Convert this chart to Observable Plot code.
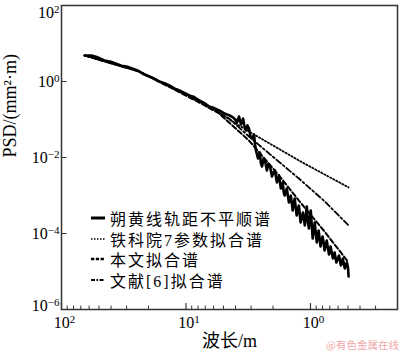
<!DOCTYPE html>
<html><head><meta charset="utf-8">
<script src="https://cdn.jsdelivr.net/npm/d3@7"></script>
<script src="https://cdn.jsdelivr.net/npm/@observablehq/plot@0.6"></script>
<style>
body{margin:0;background:#fff;}
#wrap{position:relative;width:400px;height:354px;font-family:"Liberation Serif","Noto Sans CJK SC",serif;}
.legend{position:absolute;left:91px;top:208px;font-size:16px;color:#000;font-family:"Liberation Serif","Noto Sans CJK SC",serif;}
.legend .row{display:flex;align-items:center;height:20.5px;white-space:nowrap}
.legend span{letter-spacing:2px}
.legend svg{width:14px;height:10px;margin-right:5px;flex:none}
.wm{position:absolute;left:326px;top:337px;font-size:10.5px;color:#f0a8a8;font-family:"Noto Sans CJK SC",sans-serif;white-space:nowrap}
</style></head><body><div id="wrap"></div>
<script>
// measured track gauge irregularity PSD (wavelength m, PSD mm^2·m)
const measWavelength = [65.2,57.3,52.2,45.1,40.2,36.8,33.0,30.0,27.1,24.5,21.8,19.7,17.9,16.4,14.9,13.6,12.4,11.3,10.3,9.4,8.6,7.83,7.1,6.52,5.95,5.42,5.0,4.68,4.41,4.19,4.02,3.89,3.75,3.61,3.48,3.39,3.30,3.21,3.12,3.03,2.95,2.84,2.79,2.74,2.69,2.64,2.55,2.50,2.45,2.38,2.32,2.24,2.18,2.12,2.04,1.97,1.93,1.86,1.79,1.73,1.67,1.64,1.61,1.55,1.49,1.44,1.41,1.39,1.34,1.29,1.26,1.24,1.20,1.15,1.11,1.07,1.05,1.03,0.995,0.96,0.925,0.89,0.86,0.83,0.80,0.785,0.77,0.74,0.71,0.69,0.66,0.64,0.62,0.59,0.57,0.55,0.53,0.51,0.50,0.494];
const measPSD = [4.83,4.8,4.41,3.57,3.3,2.98,2.6,2.48,2.2,1.95,1.55,1.35,1.18,1.0,0.9,0.785,0.66,0.58,0.5,0.43,0.39,0.316,0.27,0.22,0.2,0.173,0.15,0.135,0.125,0.113,0.1,0.0834,0.12,0.0738,0.106,0.066,0.0514,0.07,0.058,0.035,0.0316,0.0403,0.022,0.0153,0.012,0.00942,0.0135,0.007,0.0058,0.0095,0.00834,0.00455,0.0068,0.00616,0.00316,0.0042,0.00455,0.0022,0.00336,0.00153,0.0022,0.0012,0.001,0.00153,0.000655,0.001,0.0006,0.000403,0.000834,0.000298,0.00045,0.000546,0.000195,0.000357,0.000163,0.000514,0.00021,0.000135,0.000403,7.4e-5,0.000195,5.8e-5,0.00012,4.55e-5,8.3e-5,6.0e-5,3.57e-5,6.5e-5,2.8e-5,4.55e-5,2.2e-5,3.16e-5,1.73e-5,2.64e-5,1.44e-5,2.2e-5,1.2e-5,1.73e-5,1.3e-5,7.4e-6];
// 铁科院7参数拟合谱
const tkyWavelength = [65.2,23.7,7.83,3.12,1.24,0.494];
const tkyPSD = [4.83,1.83,0.316,0.0483,0.00834,0.00163];
// 本文拟合谱
const thisWavelength = [65.2,23.7,7.83,5.42,3.12,1.79,1.24,0.783,0.494];
const thisPSD = [4.83,1.83,0.28,0.144,0.028,0.00336,0.000738,0.00012,1.73e-5];
// 文献[6]拟合谱
const refWavelength = [65.2,23.7,7.83,4.51,3.12,1.24,0.783,0.494];
const refPSD = [4.83,1.83,0.298,0.106,0.0357,0.0028,0.000738,0.000163];

const seriesNames = ["朔黄线轨距不平顺谱","铁科院7参数拟合谱","本文拟合谱","文献[6]拟合谱"];
const xMajor = [100,10,1];
const xMinor = [90,80,70,60,50,40,30,20,9,8,7,6,5,4,3,2,0.9,0.8,0.7,0.6,0.5,0.4,0.3];
const yMajor = [1e2,1,1e-2,1e-4,1e-6];
const xLabel = "波长/m";
const yLabel = "PSD/(mm²·m)";
const watermark = "@有色金属在线";

const toRows = (xs, ys) => xs.map((x, i) => ({x, y: ys[i]}));
const meas = toRows(measWavelength, measPSD);
const tky = toRows(tkyWavelength, tkyPSD);
const mine = toRows(thisWavelength, thisPSD);
const ref = toRows(refWavelength, refPSD);

const fmt = d => "10^" + Math.round(Math.log10(d));
const tickShape = {draw(ctx, l) { ctx.moveTo(0, 0); ctx.lineTo(0, -l); }};
const font = "'Liberation Serif','Noto Sans CJK SC',serif";

const plot = Plot.plot({
  width: 400, height: 354,
  marginLeft: 61, marginRight: 3, marginTop: 5, marginBottom: 45,
  style: {fontFamily: font, background: "transparent", color: "#000", overflow: "visible"},
  x: {type: "log", domain: [100, 0.2]},
  y: {type: "log", domain: [1e-6, 1e2]},
  marks: [
    Plot.axisX({ticks: xMajor, tickSize: 0, tickPadding: 7, tickFormat: fmt, fontSize: 16, dx: 3, label: null}),
    Plot.axisY({ticks: yMajor, tickSize: 0, tickPadding: 2, tickFormat: fmt, fontSize: 16, label: null}),
    Plot.vector(xMinor, {x: d => d, frameAnchor: "bottom", length: 3.5, rotate: 0, anchor: "start", shape: tickShape, stroke: "#333", strokeWidth: 1}),
    Plot.vector(xMajor, {x: d => d, frameAnchor: "bottom", length: 6, rotate: 0, anchor: "start", shape: tickShape, stroke: "#333", strokeWidth: 1.2}),
    Plot.vector(yMajor, {y: d => d, frameAnchor: "left", length: 4.5, rotate: 90, anchor: "start", shape: tickShape, stroke: "#333", strokeWidth: 1.2}),
    Plot.line(tky, {x: "x", y: "y", stroke: "#000", strokeWidth: 1.8, strokeDasharray: "1.3,2.1"}),
    Plot.line(ref, {x: "x", y: "y", stroke: "#000", strokeWidth: 1.8, strokeDasharray: "6,2.5,2,2.5"}),
    Plot.line(mine, {x: "x", y: "y", stroke: "#000", strokeWidth: 2, strokeDasharray: "5,2.5"}),
    Plot.line(meas, {x: "x", y: "y", stroke: "#000", strokeWidth: 2.6, strokeLinejoin: "round"}),
    Plot.frame({stroke: "#333", strokeWidth: 1.5}),
    Plot.text([yLabel], {frameAnchor: "left", dx: -51, rotate: -90, fontSize: 18, text: d => d}),
    Plot.text([xLabel], {frameAnchor: "bottom", dy: 37, fontSize: 18, text: d => d})
  ]
});

// superscript exponents in tick labels; nudge the extreme y labels inside like the reference
plot.querySelectorAll('g[aria-label$="tick label"] text').forEach(t => {
  const s = t.textContent;
  if (!s.includes("^")) return;
  const [base, exp] = s.split("^");
  t.textContent = base;
  const ts = document.createElementNS("http://www.w3.org/2000/svg", "tspan");
  ts.setAttribute("dy", "-0.45em");
  ts.setAttribute("font-size", "11");
  ts.textContent = exp.replace("-", "−");
  t.appendChild(ts);
});
const yLabels = plot.querySelectorAll('g[aria-label="y-axis tick label"] text');
yLabels.forEach(t => {
  const s = t.textContent;
  if (s === "102") t.setAttribute("transform", (t.getAttribute("transform") || "") + " translate(0,7)");
  if (s === "10−6") t.setAttribute("transform", (t.getAttribute("transform") || "") + " translate(0,-4)");
});

const wrap = document.getElementById("wrap");
wrap.appendChild(plot);

// legend overlay
const styles = [
  {w: 3, dash: null},
  {w: 1.5, dash: "1.5,1.5"},
  {w: 2.5, dash: "3.3,1.5"},
  {w: 2.2, dash: "4,1.5,1.5,1.5"}
];
const leg = document.createElement("div");
leg.className = "legend";
seriesNames.forEach((name, i) => {
  const row = document.createElement("div");
  row.className = "row";
  const st = styles[i];
  row.innerHTML = `<svg viewBox="0 0 14 10"><line x1="0" x2="14" y1="5" y2="5" stroke="#000" stroke-width="${st.w}" ${st.dash ? `stroke-dasharray="${st.dash}"` : ""}/></svg><span>${name}</span>`;
  leg.appendChild(row);
});
wrap.appendChild(leg);

const wm = document.createElement("div");
wm.className = "wm";
wm.textContent = watermark;
wrap.appendChild(wm);
</script></body></html>
